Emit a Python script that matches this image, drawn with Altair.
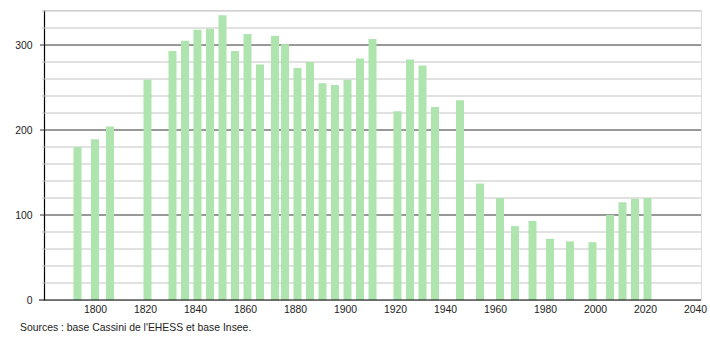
import altair as alt
import pandas as pd

years = [1793, 1800, 1806, 1821, 1831, 1836, 1841, 1846, 1851, 1856, 1861, 1866,
         1872, 1876, 1881, 1886, 1891, 1896, 1901, 1906, 1911, 1921, 1926, 1931,
         1936, 1946, 1954, 1962, 1968, 1975, 1982, 1990, 1999, 2006, 2011, 2016, 2021]
population = [180, 189, 204, 259, 293, 305, 318, 319, 335, 293, 313, 277,
              311, 301, 273, 280, 255, 253, 259, 284, 307, 222, 283, 276,
              227, 235, 137, 120, 87, 93, 72, 69, 68, 100, 115, 119, 120]
x_labels = [1800, 1820, 1840, 1860, 1880, 1900, 1920, 1940, 1960, 1980, 2000, 2020, 2040]
y_labels = [0, 100, 200, 300]
minor_grid = [20, 40, 60, 80, 120, 140, 160, 180, 220, 240, 260, 280, 320, 340]
major_grid = [100, 200, 300]
source_text = "Sources : base Cassini de l'EHESS et base Insee."

W, H = 657, 290
FONT = "Liberation Sans"
FS = 10.4

df = pd.DataFrame({"year": years, "pop": population})
xs = alt.Scale(domain=[1779.6, 2042.4], nice=False, zero=False, padding=0)
ys = alt.Scale(domain=[0, 341.2], nice=False, padding=0)

y_axis = alt.Axis(values=y_labels, ticks=False, domain=True,
                  domainColor="#000000", domainWidth=1.2, grid=False,
                  labelFont=FONT, labelFontSize=FS, labelColor="#222222",
                  labelPadding=12)

minor = alt.Chart(pd.DataFrame({"v": minor_grid})).mark_rule(
    color="#c4c4c4", strokeWidth=1
).encode(y=alt.Y("v:Q", scale=ys, axis=y_axis, title=None),
         x=alt.value(-2), x2=alt.value(W))

major = alt.Chart(pd.DataFrame({"v": major_grid})).mark_rule(
    color="#333333", strokeWidth=1
).encode(y=alt.Y("v:Q", scale=ys, axis=y_axis, title=None),
         x=alt.value(-4), x2=alt.value(W))

bars = alt.Chart(df).mark_bar(color="#aee5ae", width=8).encode(
    x=alt.X("year:Q", scale=xs, title=None,
            axis=alt.Axis(values=x_labels, format="d", ticks=False, domain=False,
                          grid=False, labelFont=FONT, labelFontSize=FS,
                          labelColor="#222222", labelPadding=4, labelFlush=False)),
    y=alt.Y("pop:Q", scale=ys, title=None, axis=y_axis),
)

xaxis_line = alt.Chart(pd.DataFrame({"a": [0]})).mark_rule(
    color="#000000", strokeWidth=1.2
).encode(x=alt.value(-5), x2=alt.value(W), y=alt.value(H))

source = alt.Chart(pd.DataFrame({"t": [source_text]})).mark_text(
    align="left", baseline="middle", font=FONT, fontSize=FS, color="#222222"
).encode(text="t:N", x=alt.value(-24), y=alt.value(318))

chart = alt.layer(minor, major, bars, xaxis_line, source).properties(
    width=W, height=H,
    padding={"left": 44, "top": 10, "right": 9, "bottom": 40},
    autosize=alt.AutoSizeParams(type="none"),
).configure_view(stroke=None).configure(background="white")

chart.save("out.html", embed_options={"renderer": "svg", "actions": False})
